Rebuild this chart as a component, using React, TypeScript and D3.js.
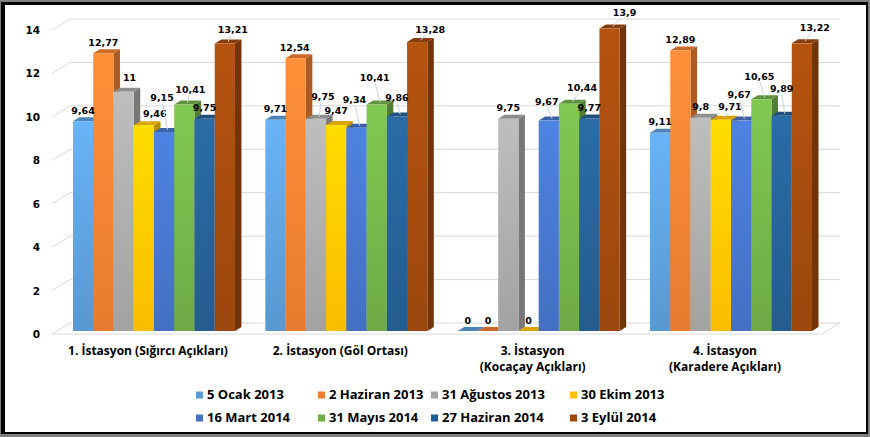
import React from "react";
import * as d3 from "d3";

// ---------- data ----------
const categories = [
  "1. İstasyon (Sığırcı Açıkları)",
  "2. İstasyon (Göl Ortası)",
  "3. İstasyon\n(Kocaçay Açıkları)",
  "4. İstasyon\n(Karadere Açıkları)",
];
const seriesNames = [
  "5 Ocak 2013",
  "2 Haziran 2013",
  "31 Ağustos 2013",
  "30 Ekim 2013",
  "16 Mart 2014",
  "31 Mayıs 2014",
  "27 Haziran 2014",
  "3 Eylül 2014",
];
const ocak2013 = [9.64, 9.71, 0, 9.11];
const haziran2013 = [12.77, 12.54, 0, 12.89];
const agustos2013 = [11, 9.75, 9.75, 9.8];
const ekim2013 = [9.46, 9.47, 0, 9.71];
const mart2014 = [9.15, 9.34, 9.67, 9.67];
const mayis2014 = [10.41, 10.41, 10.44, 10.65];
const haziran2014 = [9.75, 9.86, 9.77, 9.89];
const eylul2014 = [13.21, 13.28, 13.9, 13.22];
const seriesValues = [ocak2013, haziran2013, agustos2013, ekim2013, mart2014, mayis2014, haziran2014, eylul2014];
const yTicks = [0, 2, 4, 6, 8, 10, 12, 14];

// ---------- styling / layout ----------
const colors = ["#5B9BD5", "#ED7D31", "#A5A5A5", "#FFC000", "#4472C4", "#70AD47", "#255E91", "#9E480E"];
// data-label nudges [dx, dy] per category, per series (layout only)
const labelNudges = [
  [[0, 0], [0, 0], [6, -3], [11, -1], [-2, -23], [6, -4], [0, 0], [8, -3]],
  [[0, 0], [-1, 0], [7, -11], [0, -3], [-2, -17], [-2, -16], [0, -8], [13, -2]],
  [[0, 0], [0, 0], [0, 0], [0, 0], [-2, -8], [13, -5], [0, 0], [15, -5]],
  [[0, 0], [0, 0], [0, 0], [9, -2], [-2, -15], [-2, -12], [0, -16], [13, -5]],
];
const legendCols = [196, 318, 431, 570];
const legendRows = [399, 422];

const W = 870;
const H = 437;
const DX = 6.5; // bar depth offset
const DY = -4;
const WX = 18; // wall depth offset
const WY = -11;

export default function App() {
  const x = d3.scaleBand<string>().domain(categories).range([57.8, 827.2]).padding(0);
  const groupW = 162;
  const inner = d3.scaleBand<string>().domain(seriesNames).range([0, groupW]).padding(0);
  const yBar = d3.scaleLinear().domain([0, 14]).range([331, 26.4]);
  const yFront = d3.scaleLinear().domain([0, 14]).range([334, 30]);

  const gridLeft = 52;
  const gridRight = 822;

  const fmt = (v: number) => String(v).replace(".", ",");

  const bars: React.ReactNode[] = [];
  const labels: React.ReactNode[] = [];

  categories.forEach((cat, ci) => {
    const gx = (x(cat) as number) + (x.bandwidth() - groupW) / 2;
    seriesNames.forEach((s, si) => {
      const v = seriesValues[si][ci];
      const c = d3.color(colors[si])!;
      const bx = gx + (inner(s) as number);
      const bw = inner.bandwidth();
      const yt = yBar(v);
      const yb = yBar(0);
      const side = c.darker(0.9).formatHex();
      const top = c.darker(0.45).formatHex();
      bars.push(
        <g key={`b${ci}-${si}`}>
          <polygon
            points={`${bx + bw},${yt} ${bx + bw + DX},${yt + DY} ${bx + bw + DX},${yb + DY} ${bx + bw},${yb}`}
            fill={side}
          />
          <polygon
            points={`${bx},${yt} ${bx + DX},${yt + DY} ${bx + bw + DX},${yt + DY} ${bx + bw},${yt}`}
            fill={top}
          />
          {v > 0 && <rect x={bx} y={yt} width={bw} height={yb - yt} fill={`url(#grad${si})`} />}
        </g>
      );
      const [ndx, ndy] = labelNudges[ci][si];
      const cx = bx + bw / 2;
      const lx = cx + ndx;
      const lyCenter = yt - 11 + ndy;
      const needLeader = ndy <= -4 || Math.abs(ndx) >= 7;
      if (needLeader) {
        labels.push(
          <line
            key={`ll${ci}-${si}`}
            x1={lx - ndx * 0.3}
            y1={lyCenter + 6}
            x2={cx + DX / 2}
            y2={yt + DY / 2}
            stroke="#C9D3E0"
            strokeWidth={1}
          />
        );
      }
      labels.push(
        <text
          key={`l${ci}-${si}`}
          x={lx}
          y={lyCenter + 3.5}
          textAnchor="middle"
          fontFamily="DejaVu Sans, Verdana, sans-serif"
          fontWeight="bold"
          fontSize={9.5}
          fill="#000"
        >
          {fmt(v)}
        </text>
      );
    });
  });

  return (
    <svg
      width={W}
      height={H}
      style={{ position: "absolute", left: 0, top: 0, display: "block" }}
      xmlns="http://www.w3.org/2000/svg"
    >
      <defs>
        {colors.map((col, i) => {
          const c = d3.color(col)!;
          return (
            <linearGradient key={i} id={`grad${i}`} x1="0" y1="0" x2="0" y2="1">
              <stop offset="0%" stopColor={c.brighter(0.4).formatHex()} />
              <stop offset="100%" stopColor={c.darker(0.05).formatHex()} />
            </linearGradient>
          );
        })}
      </defs>
      {/* frame */}
      <rect x={0} y={0} width={W} height={H} fill="#7F7F7F" />
      <rect x={1} y={2} width={867} height={432} fill="#000" />
      <rect x={5} y={5} width={861} height={427} fill="#fff" />

      {/* grid: side wall diagonals + back wall */}
      {yTicks.map((t) => (
        <g key={`g${t}`}>
          <line x1={gridLeft} y1={yFront(t)} x2={gridLeft + WX} y2={yFront(t) + WY} stroke="#D9D9D9" strokeWidth={1} />
          <line x1={gridLeft + WX} y1={yFront(t) + WY} x2={gridRight + WX} y2={yFront(t) + WY} stroke="#D9D9D9" strokeWidth={1} />
        </g>
      ))}
      {/* floor front edge */}
      <line x1={gridLeft} y1={yFront(0)} x2={gridRight} y2={yFront(0)} stroke="#D9D9D9" strokeWidth={1} />
      <line x1={gridRight} y1={yFront(0)} x2={gridRight + WX} y2={yFront(0) + WY} stroke="#D9D9D9" strokeWidth={1} />

      {/* y tick labels */}
      {yTicks.map((t) => (
        <text
          key={`t${t}`}
          x={40}
          y={yFront(t) + 4}
          textAnchor="end"
          fontFamily="DejaVu Sans, Verdana, sans-serif"
          fontWeight="bold"
          fontSize={10.5}
          fill="#000"
        >
          {t}
        </text>
      ))}

      {bars}
      {labels}

      {/* category labels */}
      {categories.map((cat) => {
        const cx = (x(cat) as number) + x.bandwidth() / 2 - 6;
        return (
          <text
            key={`c${cat}`}
            textAnchor="middle"
            fontFamily="Open Sans, sans-serif"
            fontWeight="bold"
            fontSize={12}
            fill="#000"
          >
            {cat.split("\n").map((ln, i) => (
              <tspan key={i} x={cx} y={355 + i * 15.5}>
                {ln}
              </tspan>
            ))}
          </text>
        );
      })}

      {/* legend */}
      {seriesNames.map((s, i) => {
        const col = i % 4;
        const row = Math.floor(i / 4);
        const mx = legendCols[col];
        const by = legendRows[row];
        return (
          <g key={`lg${i}`}>
            <rect x={mx} y={by - 7.5} width={7} height={7} fill={colors[i]} />
            <text
              x={mx + 11}
              y={by}
              fontFamily="Open Sans, sans-serif"
              fontWeight="bold"
              fontSize={13}
              fill="#000"
            >
              {s}
            </text>
          </g>
        );
      })}
    </svg>
  );
}
